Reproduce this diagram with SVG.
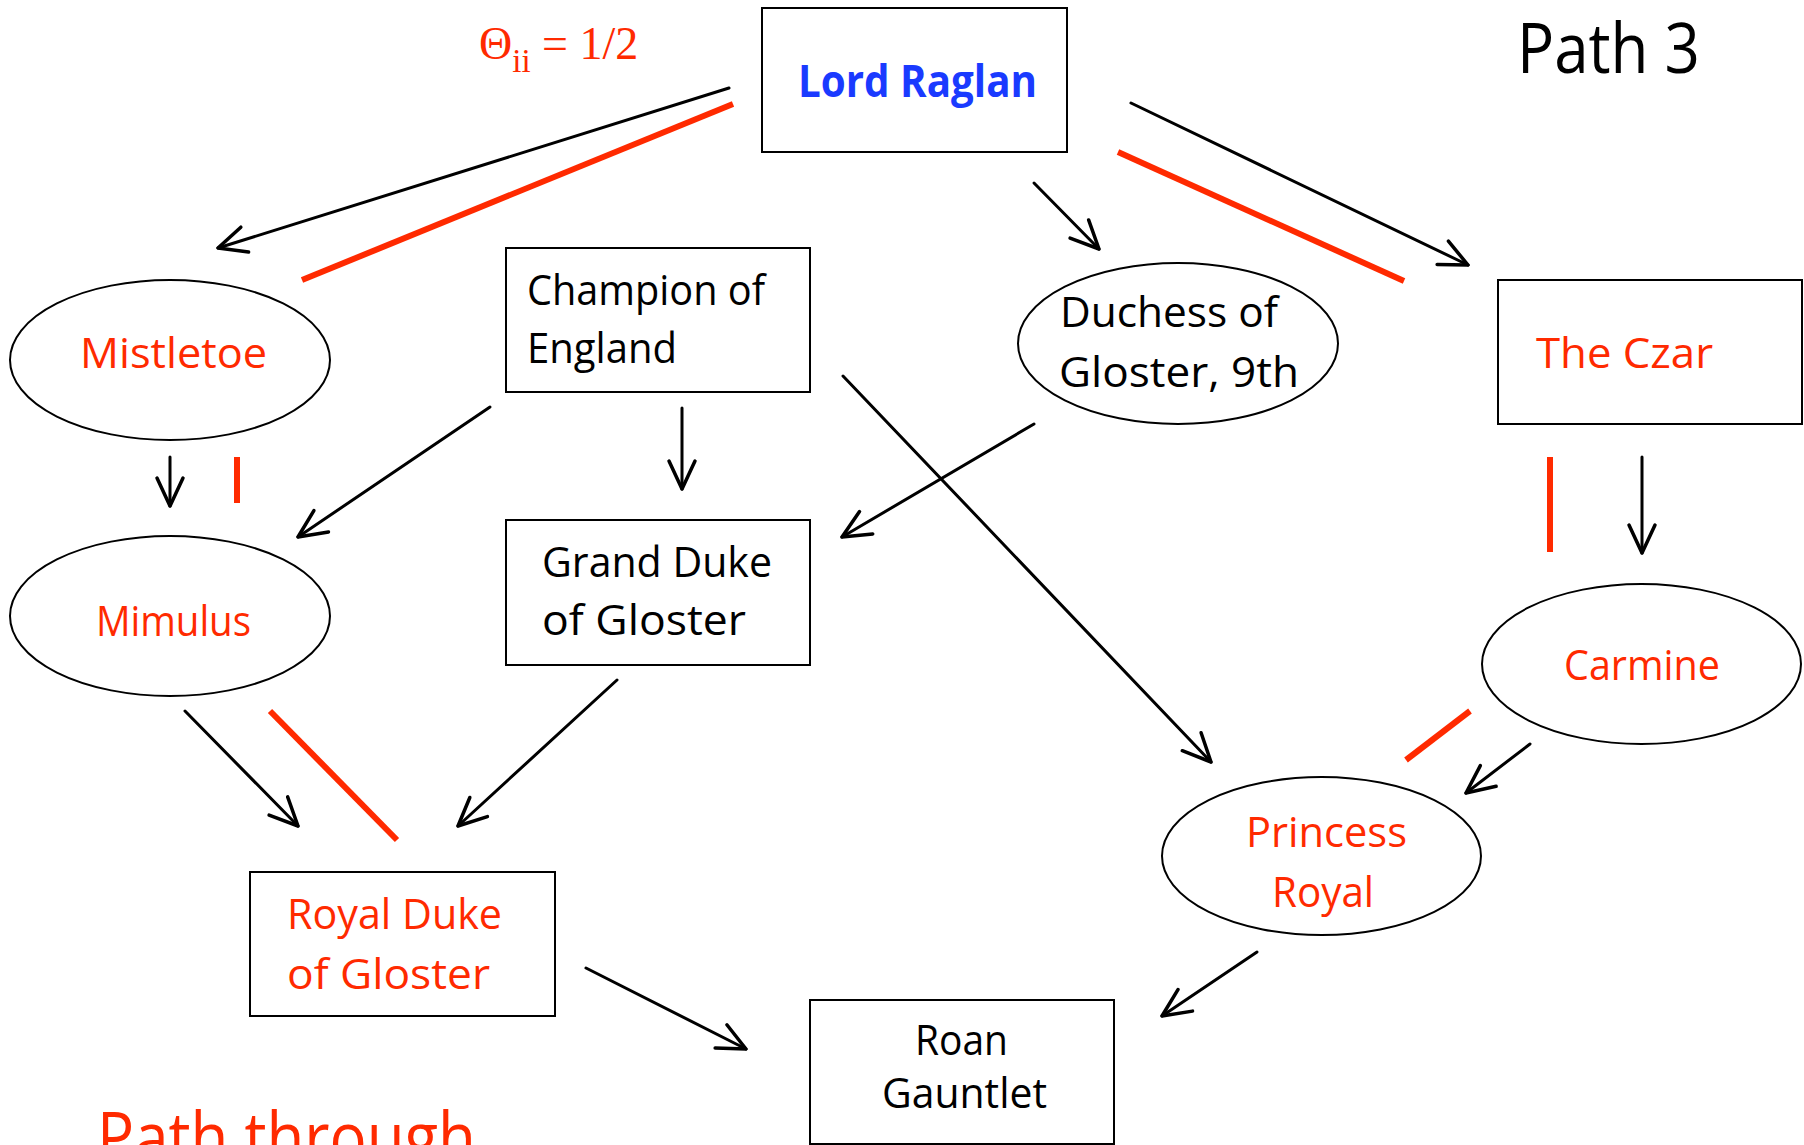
<svg xmlns="http://www.w3.org/2000/svg" width="1804" height="1145" viewBox="0 0 1804 1145">
  <defs>
    <style>
      .box { fill: #ffffff; stroke: #000000; stroke-width: 2; }
      .oval { fill: #ffffff; stroke: #000000; stroke-width: 2; }
      .lbl { font-family: "Open Sans", "Noto Sans", sans-serif; font-size: 42px; }
      .blk { fill: #000000; }
      .red { fill: #ff2a00; }
      .blue { fill: #1a3aff; font-weight: bold; font-size: 45px; }
      .arrow { stroke: #000000; stroke-width: 3; fill: none; stroke-linecap: round; marker-end: url(#head); }
      .mark { stroke: #ff2a00; stroke-width: 6; fill: none; }
      .title { font-family: "Open Sans", "Noto Sans", sans-serif; font-size: 70px; }
    </style>
    <!-- open chevron arrowhead -->
    <marker id="head" markerUnits="userSpaceOnUse" markerWidth="40" markerHeight="40" viewBox="-34 -20 40 40" refX="0" refY="0" orient="auto" overflow="visible">
      <path d="M -28,-13 L 0,0 L -28,13" fill="none" stroke="#000000" stroke-width="3.5" stroke-linecap="round" stroke-linejoin="round"/>
    </marker>
  </defs>

  <rect width="1804" height="1145" fill="#ffffff"/>

  <!-- connectors: black arrows and red path segments -->
  <g id="connectors">
    <line class="arrow" x1="729" y1="88" x2="218" y2="248"/>
    <line class="arrow" x1="1034" y1="183" x2="1099" y2="249"/>
    <line class="arrow" x1="1131" y1="103" x2="1468" y2="265"/>
    <line class="arrow" x1="170" y1="457" x2="170" y2="506"/>
    <line class="arrow" x1="490" y1="407" x2="298" y2="537"/>
    <line class="arrow" x1="682" y1="408" x2="682" y2="489"/>
    <line class="arrow" x1="843" y1="376" x2="1211" y2="762"/>
    <line class="arrow" x1="1034" y1="424" x2="842" y2="537"/>
    <line class="arrow" x1="1642" y1="457" x2="1642" y2="553"/>
    <line class="arrow" x1="185" y1="711" x2="298" y2="826"/>
    <line class="arrow" x1="617" y1="680" x2="458" y2="826"/>
    <line class="arrow" x1="1530" y1="744" x2="1466" y2="793"/>
    <line class="arrow" x1="586" y1="968" x2="746" y2="1049"/>
    <line class="arrow" x1="1257" y1="952" x2="1162" y2="1016"/>

    <line class="mark" x1="733" y1="104" x2="302" y2="280"/>
    <line class="mark" x1="1118" y1="152" x2="1404" y2="281"/>
    <line class="mark" x1="237" y1="457" x2="237" y2="503"/>
    <line class="mark" x1="1550" y1="457" x2="1550" y2="552"/>
    <line class="mark" x1="270" y1="711" x2="397" y2="840"/>
    <line class="mark" x1="1470" y1="711" x2="1406" y2="760"/>
  </g>

  <g id="lord-raglan">
    <rect class="box" x="762" y="8" width="305" height="144"/>
    <text class="lbl blue" x="798" y="97" textLength="239" lengthAdjust="spacingAndGlyphs">Lord Raglan</text>
  </g>

  <g id="mistletoe">
    <ellipse class="oval" cx="170" cy="360" rx="160" ry="80"/>
    <text class="lbl red" x="80" y="368" textLength="187" lengthAdjust="spacingAndGlyphs">Mistletoe</text>
  </g>

  <g id="champion-of-england">
    <rect class="box" x="506" y="248" width="304" height="144"/>
    <text class="lbl blk" x="527" y="305" textLength="238" lengthAdjust="spacingAndGlyphs">Champion of</text>
    <text class="lbl blk" x="527" y="363" textLength="150" lengthAdjust="spacingAndGlyphs">England</text>
  </g>

  <g id="duchess-of-gloster">
    <ellipse class="oval" cx="1178" cy="343.5" rx="160" ry="80.5"/>
    <text class="lbl blk" x="1060" y="327" textLength="218" lengthAdjust="spacingAndGlyphs">Duchess of</text>
    <text class="lbl blk" x="1059" y="387" textLength="240" lengthAdjust="spacingAndGlyphs">Gloster, 9th</text>
  </g>

  <g id="the-czar">
    <rect class="box" x="1498" y="280" width="304" height="144"/>
    <text class="lbl red" x="1536" y="368" textLength="177" lengthAdjust="spacingAndGlyphs">The Czar</text>
  </g>

  <g id="mimulus">
    <ellipse class="oval" cx="170" cy="616" rx="160" ry="80"/>
    <text class="lbl red" x="96" y="636" textLength="155" lengthAdjust="spacingAndGlyphs">Mimulus</text>
  </g>

  <g id="grand-duke">
    <rect class="box" x="506" y="520" width="304" height="145"/>
    <text class="lbl blk" x="542" y="577" textLength="230" lengthAdjust="spacingAndGlyphs">Grand Duke</text>
    <text class="lbl blk" x="542" y="635" textLength="204" lengthAdjust="spacingAndGlyphs">of Gloster</text>
  </g>

  <g id="carmine">
    <ellipse class="oval" cx="1641.5" cy="664" rx="159.5" ry="80"/>
    <text class="lbl red" x="1564" y="680" textLength="156" lengthAdjust="spacingAndGlyphs">Carmine</text>
  </g>

  <g id="princess-royal">
    <ellipse class="oval" cx="1321.5" cy="856" rx="159.5" ry="79"/>
    <text class="lbl red" x="1246" y="847" textLength="161" lengthAdjust="spacingAndGlyphs">Princess</text>
    <text class="lbl red" x="1272" y="907" textLength="102" lengthAdjust="spacingAndGlyphs">Royal</text>
  </g>

  <g id="royal-duke">
    <rect class="box" x="250" y="872" width="305" height="144"/>
    <text class="lbl red" x="287" y="929" textLength="215" lengthAdjust="spacingAndGlyphs">Royal Duke</text>
    <text class="lbl red" x="287" y="989" textLength="203" lengthAdjust="spacingAndGlyphs">of Gloster</text>
  </g>

  <g id="roan-gauntlet">
    <rect class="box" x="810" y="1000" width="304" height="144"/>
    <text class="lbl blk" x="915" y="1055" textLength="93" lengthAdjust="spacingAndGlyphs">Roan</text>
    <text class="lbl blk" x="882" y="1108" textLength="165" lengthAdjust="spacingAndGlyphs">Gauntlet</text>
  </g>

  <!-- free-standing captions -->
  <g id="captions">
    <text x="479" y="59" font-family="'Liberation Serif', serif" font-size="46" fill="#ff2a00">Θ<tspan font-size="33" dy="13">ii</tspan><tspan dy="-13" font-size="46"> = 1/2</tspan></text>
    <text class="title blk" x="1517" y="73" textLength="183" lengthAdjust="spacingAndGlyphs">Path 3</text>
    <text class="title red" x="97" y="1162" textLength="379" lengthAdjust="spacingAndGlyphs">Path through</text>
  </g>
</svg>
